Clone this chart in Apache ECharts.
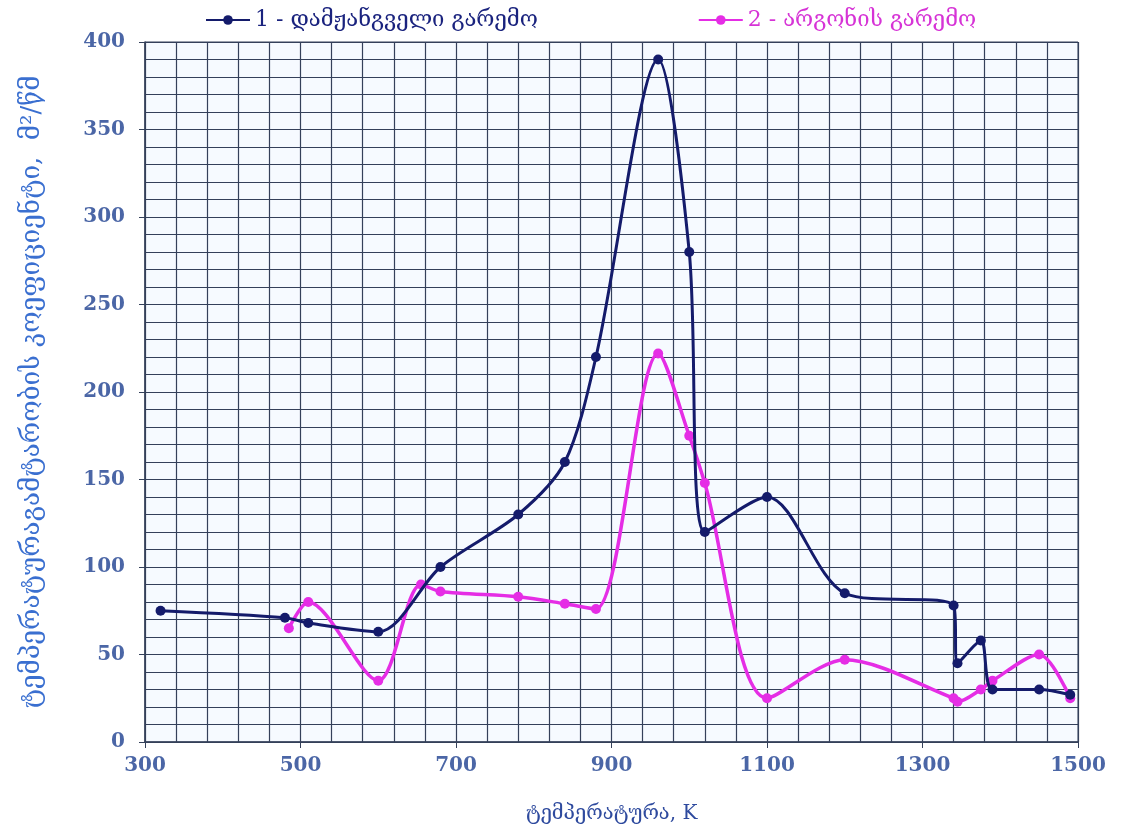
<!DOCTYPE html>
<html>
<head>
<meta charset="utf-8">
<script src="https://cdn.jsdelivr.net/npm/echarts@6/dist/echarts.min.js"></script>
<style>
  html, body { margin: 0; padding: 0; background: #fff; }
  #chart { width: 1123px; height: 836px; }
</style>
</head>
<body>
<div id="chart"></div>
<script>
// ტემპერატურა, K  /  კოეფიციენტი
const oxidTemp = [320, 480, 510, 600, 680, 780, 840, 880, 960, 1000, 1020, 1100, 1200, 1340, 1345, 1375, 1390, 1450, 1490]
const oxidVal = [75, 71, 68, 63, 100, 130, 160, 220, 390, 280, 120, 140, 85, 78, 45, 58, 30, 30, 27]
const argonTemp = [485, 510, 600, 655, 680, 780, 840, 880, 960, 1000, 1020, 1100, 1200, 1340, 1345, 1375, 1390, 1450, 1490]
const argonVal = [65, 80, 35, 90, 86, 83, 79, 76, 222, 175, 148, 25, 47, 25, 23, 30, 35, 50, 25]
const seriesNames = ['1 - დამჟანგველი გარემო', '2 - არგონის გარემო']

const font = '"DejaVu Serif", serif'
const gridColor = '#34405a'

const chart = echarts.init(document.getElementById('chart'))

const toPairs = (xs, ys) => xs.map((x, i) => [x, ys[i]])

chart.setOption({
  animation: false,
  backgroundColor: '#ffffff',
  legend: {
    top: 4,
    left: 200,
    itemGap: 160,
    itemWidth: 44,
    itemHeight: 12,
    textStyle: { fontFamily: font, fontSize: 22 },
    data: [
      { name: seriesNames[0], textStyle: { color: '#1a237e' } },
      { name: seriesNames[1], textStyle: { color: '#d633d6' } }
    ]
  },
  grid: {
    left: 145,
    right: 45,
    top: 42,
    bottom: 94,
    show: true,
    backgroundColor: '#f6faff',
    borderColor: gridColor,
    borderWidth: 1
  },
  xAxis: {
    type: 'value',
    min: 300,
    max: 1500,
    interval: 200,
    name: 'ტემპერატურა, K',
    nameLocation: 'middle',
    nameGap: 62,
    nameTextStyle: { fontFamily: font, fontSize: 20, color: '#2e4a9e' },
    axisLine: { show: true, lineStyle: { color: gridColor, width: 1.5 } },
    axisTick: { show: true, length: 6, lineStyle: { color: gridColor } },
    axisLabel: { fontFamily: font, fontSize: 20, fontWeight: 'bold', color: '#4b66a6', margin: 14, formatter: v => String(v) },
    splitLine: { show: true, lineStyle: { color: gridColor, width: 1.2 } },
    minorTick: { show: false, splitNumber: 5 },
    minorSplitLine: { show: true, lineStyle: { color: gridColor, width: 1.2 } }
  },
  yAxis: {
    type: 'value',
    min: 0,
    max: 400,
    interval: 50,
    name: 'ტემპერატურაგამტარობის კოეფიციენტი,  მ²/წმ',
    nameLocation: 'middle',
    nameGap: 100,
    nameTextStyle: { fontFamily: font, fontSize: 26, color: '#3a6fd0' },
    axisLine: { show: true, lineStyle: { color: gridColor, width: 1.5 } },
    axisTick: { show: true, length: 6, lineStyle: { color: gridColor } },
    axisLabel: { fontFamily: font, fontSize: 20, fontWeight: 'bold', color: '#4b66a6', margin: 20 },
    splitLine: { show: true, lineStyle: { color: gridColor, width: 1.2 } },
    minorTick: { show: false, splitNumber: 5 },
    minorSplitLine: { show: true, lineStyle: { color: gridColor, width: 1.2 } }
  },
  series: [
    {
      name: seriesNames[0],
      type: 'line',
      smooth: 0.3,
      data: toPairs(oxidTemp, oxidVal),
      symbol: 'circle',
      symbolSize: 10,
      itemStyle: { color: '#141b6b' },
      lineStyle: { width: 3, color: '#141b6b' },
      z: 3
    },
    {
      name: seriesNames[1],
      type: 'line',
      smooth: 0.3,
      data: toPairs(argonTemp, argonVal),
      symbol: 'circle',
      symbolSize: 10,
      itemStyle: { color: '#e52de5' },
      lineStyle: { width: 3.5, color: '#e52de5' },
      z: 2
    }
  ]
})
</script>
</body>
</html>
